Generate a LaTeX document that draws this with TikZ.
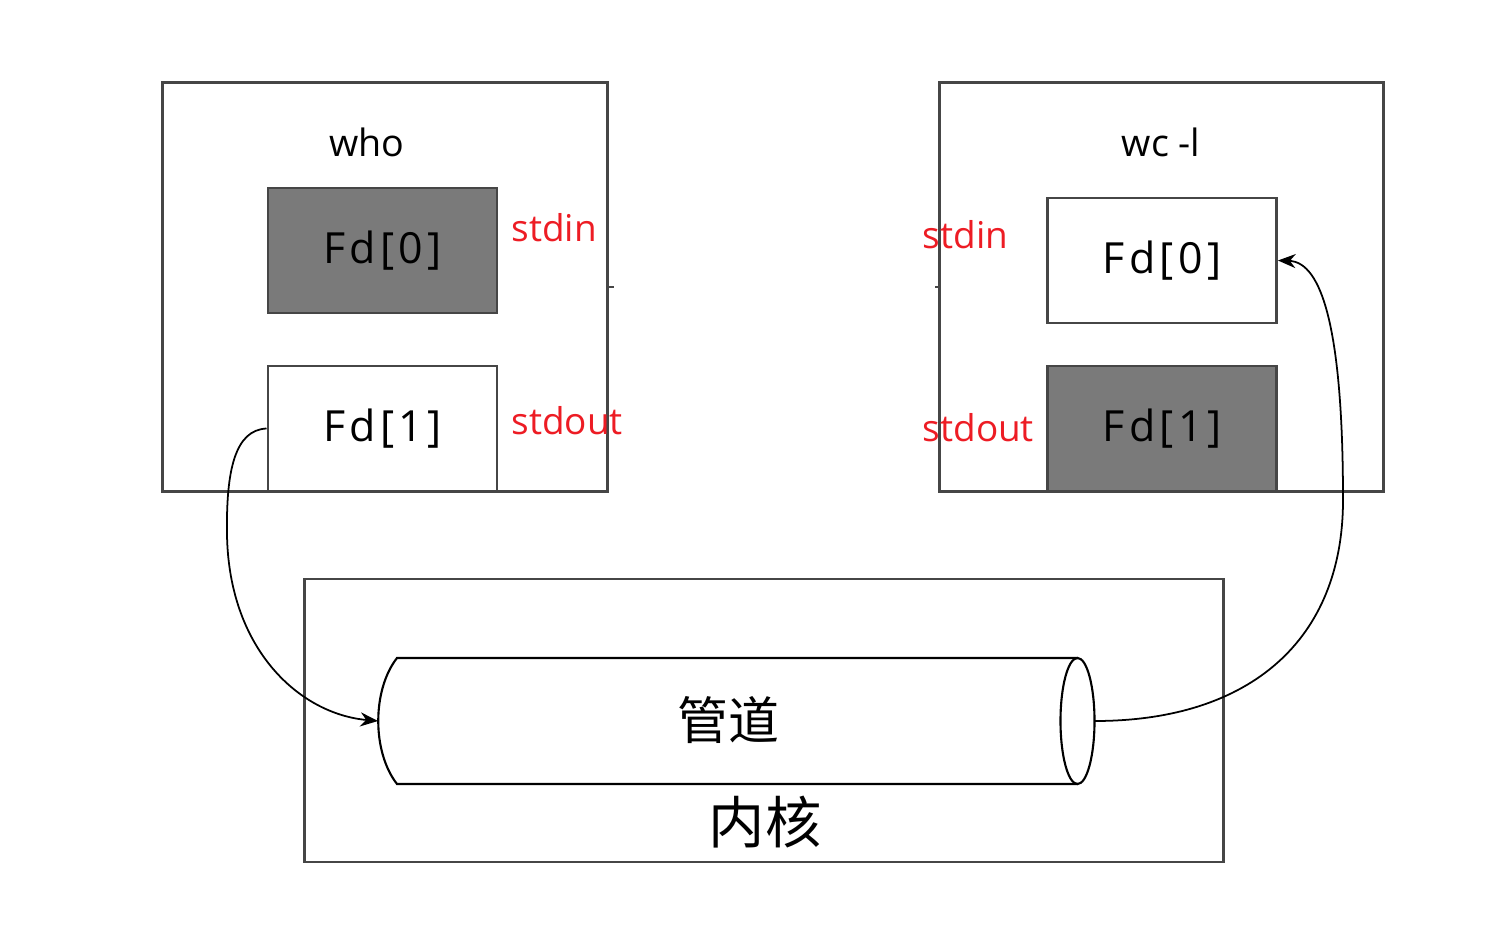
\documentclass[tikz,border=0pt]{standalone}
\usepackage{fontspec}
\setmainfont{Open Sans}
\newfontfamily\cjk{Noto Sans CJK SC}
\usetikzlibrary{arrows.meta}
\definecolor{fdgray}{RGB}{122,122,122}
\definecolor{labelred}{RGB}{237,28,36}
\definecolor{edgegray}{RGB}{70,70,70}
\tikzset{
  proc box/.style={
    rectangle, draw=edgegray, line width=0.8pt, inner sep=0pt,
    minimum width=4.44cm, minimum height=4.08cm
  },
  fd box/.style={
    rectangle, draw=edgegray, line width=0.8pt, fill=white, inner sep=0pt,
    minimum width=2.29cm, minimum height=1.25cm,
    font=\fontsize{12.2}{15}\selectfont\addfontfeature{LetterSpace=10}
  },
  fd used/.style={
    fd box, fill=fdgray
  },
  proc name/.style={
    font=\fontsize{10.7}{13}\selectfont
  },
  std label/.style={
    anchor=west, inner sep=0pt, text=labelred, font=\fontsize{10.5}{13}\selectfont
  },
  pipe line/.style={
    draw=black, line width=0.6pt
  },
  flow/.style={
    draw=black, line width=0.5pt, -{Stealth[length=5pt,width=4pt]}
  }
}

\begin{document}
\begin{tikzpicture}[x=0.01cm,y=-0.01cm]
\useasboundingbox (0,0) rectangle (1500,928);

% ------------------------------------------------
% 左：who 进程
% ------------------------------------------------
\node[proc box]  (who)     at (385,287) {};
\node[proc name] (whoName) at (367,142) {who};
\node[fd used]   (whoFd0)  at (382.5,250.5) {Fd[0]};
\node[fd box]    (whoFd1)  at (382.5,428.5) {Fd[1]};
\node[std label] (whoIn)   at (511,228) {stdin};
\node[std label] (whoOut)  at (511,421) {stdout};
\draw[edgegray, line width=0.8pt] (who.east) -- ++(5,0);

% ------------------------------------------------
% 右：wc -l 进程
% ------------------------------------------------
\node[proc box]  (wc)      at (1161.5,287) {};
\node[proc name] (wcName)  at (1161,142) {wc -l};
\node[fd box]    (wcFd0)   at (1162,260.5) {Fd[0]};
\node[fd used]   (wcFd1)   at (1162,428.5) {Fd[1]};
\node[std label] (wcIn)    at (922,235) {stdin};
\node[std label] (wcOut)   at (922,428) {stdout};
\draw[edgegray, line width=0.8pt] (wc.west) -- ++(-3,0);

% ------------------------------------------------
% 下：内核与管道
% ------------------------------------------------
\node[rectangle, draw=edgegray, line width=0.8pt, inner sep=0pt,
      minimum width=9.18cm, minimum height=2.83cm] (kernel) at (764,720.5) {};
\node[font=\cjk\fontsize{16}{18}\selectfont] (kernelName) at (765,822) {内核};

\coordinate (pipeL) at (378,721);
\coordinate (pipeR) at (1095,721);
\draw[pipe line] (1078,658) -- (397,658)
  .. controls (372,690) and (372,752) .. (397,784) -- (1078,784);
\draw[pipe line] (1077.5,721) ellipse [x radius=0.17cm, y radius=0.63cm];
\node[font=\cjk\fontsize{14.5}{17}\selectfont] (pipeName) at (728,720) {管道};

% 数据流向
\draw[flow] (whoFd1.west) .. controls (235,430) and (226,470) .. (227,535)
  .. controls (229,650) and (300,714) .. (pipeL);
\draw[flow] (pipeR) .. controls (1250,721) and (1343,640) .. (1343,500)
  .. controls (1343,330) and (1322,262) .. (wcFd0.east);
\end{tikzpicture}
\end{document}
